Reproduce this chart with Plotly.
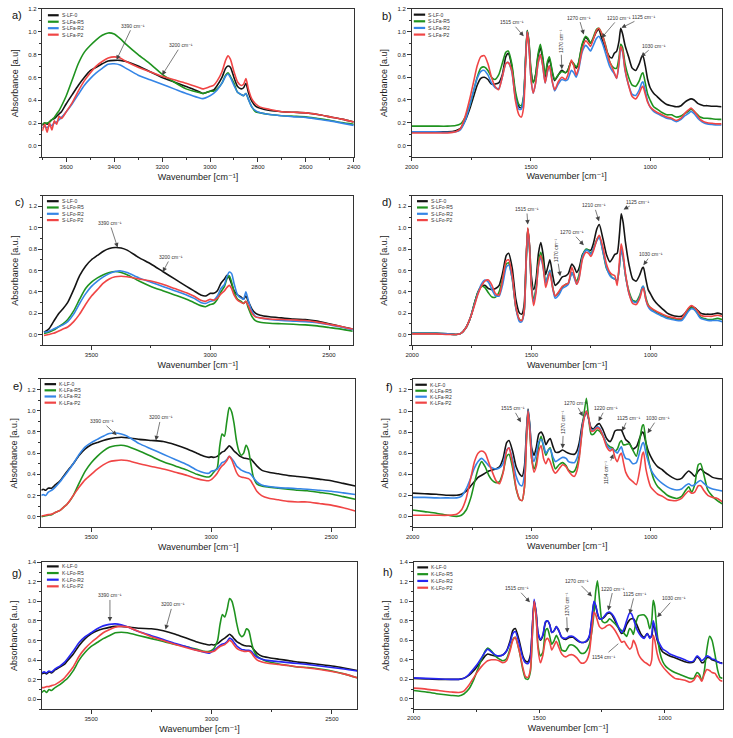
import plotly.graph_objects as go

W, H = 733, 738

# ---------------- DATA ----------------
# Panel a) 3700-2400 cm-1, S-LF / S-LFa
A_WN = [3700, 3690, 3680, 3670, 3660, 3650, 3640, 3630, 3620, 3600,
        3575, 3550, 3525, 3500, 3475, 3450, 3425, 3400, 3375, 3350,
        3300, 3250, 3200, 3150, 3100, 3050, 3030, 3000, 2985, 2970,
        2950, 2935, 2925, 2915, 2900, 2885, 2870, 2860, 2850, 2840,
        2825, 2810, 2790, 2750, 2700, 2650, 2600, 2550, 2500, 2450,
        2400]
A_S_LF_0 = [0.18, 0.20, 0.19, 0.21, 0.23, 0.24, 0.26, 0.28, 0.30, 0.37,
            0.45, 0.53, 0.60, 0.66, 0.69, 0.72, 0.745, 0.75, 0.75, 0.74,
            0.70, 0.65, 0.60, 0.56, 0.52, 0.48, 0.46, 0.48, 0.49, 0.53,
            0.60, 0.68, 0.70, 0.69, 0.60, 0.52, 0.50, 0.51, 0.55, 0.47,
            0.39, 0.35, 0.33, 0.31, 0.30, 0.295, 0.29, 0.275, 0.255, 0.235,
            0.21]
A_S_LFA_R5 = [0.19, 0.20, 0.20, 0.21, 0.23, 0.25, 0.28, 0.31, 0.35, 0.44,
              0.58, 0.72, 0.82, 0.88, 0.93, 0.97, 0.99, 0.98, 0.94, 0.89,
              0.80, 0.72, 0.63, 0.56, 0.50, 0.47, 0.46, 0.48, 0.48, 0.50,
              0.55, 0.62, 0.64, 0.61, 0.55, 0.47, 0.45, 0.44, 0.46, 0.41,
              0.34, 0.30, 0.29, 0.275, 0.265, 0.26, 0.255, 0.24, 0.225, 0.205,
              0.19]
A_S_LFA_R2 = [0.16, 0.17, 0.16, 0.18, 0.18, 0.20, 0.21, 0.23, 0.25, 0.30,
              0.37, 0.45, 0.53, 0.59, 0.64, 0.68, 0.715, 0.72, 0.71, 0.68,
              0.62, 0.58, 0.54, 0.50, 0.46, 0.425, 0.415, 0.44, 0.46, 0.49,
              0.55, 0.61, 0.63, 0.60, 0.53, 0.47, 0.45, 0.44, 0.46, 0.41,
              0.34, 0.31, 0.29, 0.275, 0.265, 0.255, 0.25, 0.235, 0.22, 0.20,
              0.18]
A_S_LFA_P2 = [0.13, 0.19, 0.12, 0.20, 0.14, 0.22, 0.19, 0.26, 0.24, 0.30,
              0.38, 0.48, 0.57, 0.64, 0.70, 0.74, 0.77, 0.78, 0.77, 0.74,
              0.69, 0.65, 0.61, 0.58, 0.55, 0.515, 0.50, 0.52, 0.53, 0.57,
              0.65, 0.75, 0.79, 0.76, 0.65, 0.56, 0.53, 0.54, 0.59, 0.50,
              0.41, 0.37, 0.34, 0.32, 0.30, 0.295, 0.29, 0.275, 0.255, 0.235,
              0.21]

# Fingerprint region 2000-700 cm-1 (panels b, d, f)
FP_WN = [2000, 1950, 1900, 1850, 1815, 1795, 1775, 1755, 1740, 1725,
         1710, 1695, 1680, 1665, 1650, 1635, 1620, 1605, 1595, 1580,
         1565, 1550, 1540, 1530, 1522, 1515, 1508, 1500, 1490, 1480,
         1470, 1460, 1450, 1440, 1430, 1422, 1410, 1400, 1385, 1370,
         1355, 1345, 1330, 1320, 1310, 1300, 1285, 1270, 1260, 1250,
         1240, 1225, 1215, 1200, 1185, 1170, 1160, 1150, 1140, 1130,
         1123, 1115, 1105, 1090, 1075, 1060, 1045, 1035, 1030, 1020,
         1010, 1000, 985, 970, 950, 930, 910, 890, 870, 855,
         840, 828, 815, 800, 790, 775, 760, 740, 720, 700]

B_S_LF_0 = [0.12, 0.12, 0.12, 0.12, 0.13, 0.15, 0.22, 0.33, 0.43, 0.53,
            0.59, 0.60, 0.58, 0.54, 0.54, 0.55, 0.62, 0.78, 0.81, 0.70,
            0.45, 0.34, 0.33, 0.42, 0.75, 1.01, 0.90, 0.66, 0.56, 0.62,
            0.78, 0.86, 0.76, 0.60, 0.72, 0.76, 0.64, 0.57, 0.62, 0.66,
            0.64, 0.66, 0.74, 0.71, 0.68, 0.72, 0.88, 0.95, 0.93, 0.90,
            0.93, 1.00, 1.02, 0.92, 0.84, 0.78, 0.77, 0.81, 0.83, 0.92,
            1.03, 0.98, 0.88, 0.78, 0.68, 0.66, 0.72, 0.78, 0.79, 0.70,
            0.58, 0.51, 0.46, 0.43, 0.39, 0.36, 0.35, 0.34, 0.35, 0.38,
            0.40, 0.41, 0.40, 0.37, 0.36, 0.35, 0.35, 0.345, 0.345, 0.34]
B_S_LFA_R5 = [0.17, 0.17, 0.17, 0.17, 0.175, 0.19, 0.25, 0.36, 0.48, 0.60,
              0.68, 0.69, 0.66, 0.60, 0.58, 0.62, 0.72, 0.82, 0.83, 0.72,
              0.48, 0.36, 0.35, 0.44, 0.78, 1.01, 0.92, 0.68, 0.55, 0.62,
              0.80, 0.89, 0.78, 0.62, 0.74, 0.78, 0.65, 0.58, 0.62, 0.65,
              0.64, 0.66, 0.74, 0.72, 0.69, 0.73, 0.89, 0.96, 0.94, 0.90,
              0.94, 1.02, 1.03, 0.97, 0.87, 0.74, 0.70, 0.68, 0.68, 0.78,
              0.89, 0.86, 0.72, 0.60, 0.53, 0.52, 0.57, 0.63, 0.64, 0.55,
              0.45, 0.40, 0.34, 0.32, 0.29, 0.27, 0.27, 0.25, 0.26, 0.28,
              0.30, 0.32, 0.30, 0.27, 0.25, 0.24, 0.24, 0.235, 0.23, 0.23]
B_S_LFA_R2 = [0.12, 0.12, 0.12, 0.115, 0.12, 0.14, 0.22, 0.36, 0.48, 0.59,
              0.65, 0.66, 0.62, 0.55, 0.51, 0.50, 0.60, 0.72, 0.73, 0.65,
              0.42, 0.32, 0.32, 0.42, 0.75, 1.00, 0.88, 0.60, 0.46, 0.55,
              0.72, 0.80, 0.70, 0.55, 0.65, 0.70, 0.56, 0.48, 0.54, 0.58,
              0.57, 0.58, 0.66, 0.64, 0.60, 0.66, 0.82, 0.88, 0.86, 0.83,
              0.87, 0.94, 0.96, 0.90, 0.80, 0.70, 0.66, 0.63, 0.59, 0.72,
              0.86, 0.82, 0.66, 0.53, 0.45, 0.44, 0.49, 0.55, 0.56, 0.48,
              0.39, 0.34, 0.30, 0.28, 0.26, 0.24, 0.23, 0.21, 0.23, 0.26,
              0.28, 0.30, 0.28, 0.24, 0.22, 0.20, 0.19, 0.185, 0.18, 0.18]
B_S_LFA_P2 = [0.11, 0.11, 0.11, 0.11, 0.12, 0.15, 0.26, 0.42, 0.56, 0.70,
              0.78, 0.79, 0.72, 0.60, 0.52, 0.49, 0.60, 0.72, 0.73, 0.66,
              0.40, 0.27, 0.25, 0.34, 0.72, 1.00, 0.88, 0.60, 0.46, 0.55,
              0.72, 0.80, 0.70, 0.55, 0.66, 0.70, 0.56, 0.49, 0.56, 0.60,
              0.58, 0.62, 0.75, 0.70, 0.62, 0.68, 0.84, 0.92, 0.90, 0.87,
              0.92, 1.01, 1.03, 0.97, 0.86, 0.74, 0.69, 0.64, 0.59, 0.74,
              0.87, 0.83, 0.67, 0.53, 0.43, 0.41, 0.46, 0.51, 0.52, 0.45,
              0.38, 0.34, 0.31, 0.29, 0.27, 0.25, 0.24, 0.22, 0.24, 0.28,
              0.31, 0.33, 0.30, 0.26, 0.23, 0.21, 0.20, 0.195, 0.19, 0.19]

# Panel c) 3700-2400, S-LF / S-LFo
C_WN = [3700, 3680, 3660, 3640, 3620, 3600, 3575, 3550, 3525, 3500,
        3475, 3450, 3425, 3400, 3375, 3350, 3300, 3250, 3200, 3150,
        3100, 3070, 3040, 3020, 3000, 2985, 2970, 2955, 2940, 2930,
        2920, 2910, 2900, 2885, 2870, 2860, 2850, 2840, 2825, 2810,
        2790, 2750, 2700, 2650, 2600, 2550, 2500, 2450, 2400]
C_S_LF_0 = [0.02, 0.05, 0.12, 0.19, 0.24, 0.30, 0.42, 0.55, 0.64, 0.70,
            0.74, 0.78, 0.805, 0.815, 0.81, 0.79, 0.72, 0.66, 0.59, 0.52,
            0.45, 0.41, 0.37, 0.36, 0.385, 0.385, 0.41, 0.48, 0.52, 0.555,
            0.53, 0.47, 0.41, 0.37, 0.35, 0.33, 0.36, 0.31, 0.24, 0.20,
            0.18, 0.165, 0.155, 0.145, 0.14, 0.125, 0.10, 0.075, 0.05]
C_S_LFO_R5 = [0.01, 0.02, 0.04, 0.07, 0.10, 0.14, 0.22, 0.33, 0.43, 0.49,
              0.53, 0.56, 0.58, 0.59, 0.58, 0.56, 0.50, 0.45, 0.41, 0.37,
              0.33, 0.30, 0.27, 0.26, 0.28, 0.29, 0.33, 0.40, 0.45, 0.52,
              0.55, 0.49, 0.40, 0.33, 0.31, 0.29, 0.31, 0.25, 0.17, 0.13,
              0.115, 0.105, 0.10, 0.095, 0.09, 0.08, 0.065, 0.05, 0.03]
C_S_LFO_R2 = [0.02, 0.03, 0.05, 0.07, 0.09, 0.12, 0.19, 0.29, 0.38, 0.45,
              0.50, 0.54, 0.57, 0.59, 0.595, 0.58, 0.53, 0.49, 0.45, 0.41,
              0.37, 0.34, 0.30, 0.29, 0.31, 0.32, 0.36, 0.43, 0.47, 0.54,
              0.585, 0.57, 0.48, 0.37, 0.34, 0.33, 0.40, 0.32, 0.22, 0.17,
              0.155, 0.14, 0.13, 0.125, 0.12, 0.11, 0.09, 0.07, 0.045]
C_S_LFO_P2 = [-0.01, 0.0, 0.01, 0.03, 0.05, 0.07, 0.12, 0.19, 0.28, 0.36,
              0.42, 0.48, 0.52, 0.54, 0.545, 0.54, 0.52, 0.50, 0.47, 0.43,
              0.39, 0.36, 0.32, 0.31, 0.33, 0.32, 0.34, 0.38, 0.41, 0.44,
              0.46, 0.43, 0.37, 0.32, 0.30, 0.29, 0.31, 0.27, 0.20, 0.165,
              0.155, 0.145, 0.14, 0.135, 0.13, 0.115, 0.095, 0.075, 0.05]

D_S_LF_0 = [0.01, 0.01, 0.01, 0.005, 0.0, 0.01, 0.06, 0.16, 0.28, 0.39,
            0.45, 0.46, 0.43, 0.42, 0.43, 0.46, 0.58, 0.74, 0.76, 0.62,
            0.33, 0.20, 0.19, 0.28, 0.70, 0.99, 0.85, 0.55, 0.42, 0.52,
            0.76, 0.86, 0.74, 0.56, 0.64, 0.70, 0.55, 0.46, 0.49, 0.54,
            0.55, 0.57, 0.66, 0.63, 0.58, 0.62, 0.75, 0.79, 0.79, 0.79,
            0.85, 0.99, 1.03, 0.90, 0.75, 0.68, 0.71, 0.75, 0.76, 0.95,
            1.13, 1.05, 0.86, 0.65, 0.52, 0.50, 0.56, 0.62, 0.63, 0.52,
            0.42, 0.38, 0.32, 0.28, 0.24, 0.20, 0.18, 0.17, 0.17, 0.20,
            0.24, 0.26, 0.25, 0.22, 0.20, 0.19, 0.19, 0.19, 0.20, 0.19]
D_S_LFO_R5 = [0.01, 0.01, 0.01, 0.005, 0.0, 0.01, 0.06, 0.16, 0.28, 0.39,
              0.45, 0.44, 0.39, 0.35, 0.35, 0.40, 0.53, 0.66, 0.67, 0.52,
              0.25, 0.14, 0.13, 0.22, 0.65, 0.99, 0.82, 0.48, 0.33, 0.44,
              0.68, 0.77, 0.66, 0.49, 0.55, 0.60, 0.44, 0.36, 0.39, 0.44,
              0.47, 0.48, 0.58, 0.54, 0.50, 0.56, 0.74, 0.80, 0.79, 0.76,
              0.80, 0.89, 0.92, 0.78, 0.62, 0.56, 0.53, 0.52, 0.50, 0.65,
              0.80, 0.72, 0.55, 0.40, 0.32, 0.31, 0.37, 0.44, 0.45, 0.35,
              0.28, 0.25, 0.22, 0.20, 0.18, 0.16, 0.15, 0.14, 0.14, 0.18,
              0.23, 0.25, 0.23, 0.19, 0.16, 0.15, 0.14, 0.14, 0.15, 0.14]
D_S_LFO_R2 = [0.01, 0.01, 0.01, 0.005, 0.0, 0.01, 0.06, 0.16, 0.27, 0.38,
              0.47, 0.51, 0.49, 0.42, 0.36, 0.36, 0.47, 0.63, 0.65, 0.52,
              0.25, 0.12, 0.12, 0.21, 0.65, 0.98, 0.82, 0.46, 0.30, 0.42,
              0.64, 0.72, 0.62, 0.48, 0.55, 0.60, 0.43, 0.34, 0.37, 0.43,
              0.45, 0.47, 0.58, 0.53, 0.47, 0.53, 0.73, 0.79, 0.78, 0.75,
              0.80, 0.88, 0.91, 0.78, 0.63, 0.55, 0.53, 0.52, 0.50, 0.65,
              0.80, 0.72, 0.55, 0.38, 0.31, 0.30, 0.35, 0.44, 0.45, 0.33,
              0.26, 0.23, 0.21, 0.19, 0.17, 0.15, 0.14, 0.13, 0.13, 0.17,
              0.22, 0.24, 0.23, 0.18, 0.15, 0.14, 0.13, 0.13, 0.13, 0.12]
D_S_LFO_P2 = [0.005, 0.005, 0.005, 0.0, 0.0, 0.01, 0.06, 0.16, 0.26, 0.37,
              0.45, 0.50, 0.51, 0.46, 0.38, 0.37, 0.52, 0.69, 0.70, 0.55,
              0.26, 0.14, 0.13, 0.22, 0.68, 1.00, 0.84, 0.45, 0.27, 0.40,
              0.65, 0.74, 0.63, 0.44, 0.52, 0.58, 0.43, 0.36, 0.40, 0.45,
              0.47, 0.48, 0.63, 0.56, 0.47, 0.52, 0.71, 0.77, 0.76, 0.73,
              0.78, 0.89, 0.93, 0.82, 0.66, 0.58, 0.56, 0.55, 0.46, 0.70,
              0.85, 0.76, 0.57, 0.38, 0.29, 0.28, 0.34, 0.42, 0.43, 0.33,
              0.27, 0.25, 0.23, 0.21, 0.19, 0.17, 0.16, 0.15, 0.15, 0.20,
              0.25, 0.27, 0.25, 0.21, 0.18, 0.17, 0.17, 0.17, 0.18, 0.17]

# Panel e) K-LF / K-LFa, 3708-2400
E_WN = [3708, 3700, 3690, 3680, 3665, 3650, 3630, 3610, 3600, 3575,
        3550, 3525, 3500, 3475, 3450, 3425, 3400, 3375, 3350, 3300,
        3250, 3200, 3150, 3100, 3060, 3030, 3010, 3000, 2990, 2975,
        2965, 2955, 2945, 2935, 2925, 2915, 2905, 2895, 2885, 2875,
        2865, 2855, 2845, 2835, 2825, 2810, 2790, 2760, 2720, 2680,
        2640, 2600, 2550, 2500, 2450, 2400]
E_K_LF_0 = [0.25, 0.26, 0.25, 0.27, 0.27, 0.30, 0.34, 0.40, 0.43, 0.50,
            0.58, 0.64, 0.68, 0.70, 0.72, 0.735, 0.745, 0.75, 0.745, 0.73,
            0.72, 0.71, 0.68, 0.64, 0.60, 0.57, 0.56, 0.565, 0.56, 0.57,
            0.59, 0.61, 0.62, 0.645, 0.67, 0.65, 0.62, 0.60, 0.58, 0.565,
            0.555, 0.55, 0.545, 0.545, 0.52, 0.48, 0.44, 0.42, 0.405, 0.39,
            0.38, 0.37, 0.355, 0.34, 0.315, 0.29]
E_K_LFA_R5 = [0.0, 0.005, 0.01, 0.015, 0.02, 0.04, 0.06, 0.10, 0.12, 0.20,
              0.32, 0.43, 0.51, 0.57, 0.62, 0.655, 0.67, 0.675, 0.665, 0.62,
              0.57, 0.52, 0.48, 0.44, 0.40, 0.38, 0.375, 0.39, 0.42, 0.46,
              0.66, 0.78, 0.76, 0.90, 1.03, 0.99, 0.88, 0.72, 0.62, 0.58,
              0.60, 0.675, 0.63, 0.50, 0.38, 0.31, 0.29, 0.28, 0.27, 0.26,
              0.25, 0.245, 0.23, 0.215, 0.19, 0.165]
E_K_LFA_R2 = [0.20, 0.21, 0.20, 0.23, 0.25, 0.28, 0.33, 0.39, 0.42, 0.50,
              0.59, 0.66, 0.70, 0.73, 0.76, 0.785, 0.79, 0.78, 0.76, 0.69,
              0.64, 0.59, 0.54, 0.49, 0.44, 0.415, 0.41, 0.43, 0.435, 0.45,
              0.48, 0.51, 0.52, 0.54, 0.57, 0.55, 0.52, 0.48, 0.46, 0.44,
              0.43, 0.42, 0.415, 0.40, 0.37, 0.33, 0.30, 0.285, 0.275, 0.27,
              0.265, 0.26, 0.25, 0.24, 0.225, 0.21]
E_K_LFA_P2 = [0.01, 0.01, 0.015, 0.02, 0.025, 0.04, 0.06, 0.10, 0.12, 0.20,
              0.28, 0.35, 0.40, 0.45, 0.49, 0.52, 0.53, 0.535, 0.53, 0.50,
              0.475, 0.45, 0.42, 0.39, 0.36, 0.345, 0.34, 0.35, 0.37, 0.41,
              0.45, 0.48, 0.50, 0.53, 0.57, 0.54, 0.48, 0.42, 0.385, 0.375,
              0.37, 0.365, 0.36, 0.34, 0.30, 0.24, 0.20, 0.175, 0.16, 0.145,
              0.14, 0.14, 0.125, 0.11, 0.085, 0.055]

F_K_LF_0 = [0.22, 0.215, 0.21, 0.20, 0.20, 0.21, 0.24, 0.29, 0.33, 0.37,
            0.39, 0.41, 0.43, 0.44, 0.45, 0.47, 0.55, 0.70, 0.72, 0.62,
            0.47, 0.40, 0.38, 0.48, 0.80, 1.02, 0.88, 0.65, 0.58, 0.66,
            0.78, 0.80, 0.76, 0.68, 0.72, 0.74, 0.66, 0.61, 0.61, 0.63,
            0.61, 0.60, 0.59, 0.59, 0.62, 0.70, 0.90, 0.99, 0.92, 0.84,
            0.83, 0.87, 0.88, 0.82, 0.74, 0.71, 0.75, 0.81, 0.82, 0.82,
            0.82, 0.78, 0.73, 0.70, 0.64, 0.66, 0.75, 0.80, 0.79, 0.70,
            0.62, 0.57, 0.51, 0.47, 0.44, 0.40, 0.37, 0.35, 0.36, 0.40,
            0.43, 0.41, 0.38, 0.43, 0.45, 0.42, 0.40, 0.37, 0.36, 0.355]
F_K_LFA_R5 = [0.06, 0.045, 0.03, 0.01, 0.0, 0.01, 0.06, 0.18, 0.32, 0.45,
              0.52, 0.47, 0.39, 0.34, 0.32, 0.33, 0.42, 0.57, 0.59, 0.46,
              0.26, 0.16, 0.15, 0.28, 0.72, 1.00, 0.82, 0.55, 0.45, 0.52,
              0.68, 0.76, 0.66, 0.58, 0.63, 0.65, 0.52, 0.45, 0.49, 0.51,
              0.48, 0.44, 0.42, 0.43, 0.48, 0.58, 0.88, 1.12, 0.92, 0.78,
              0.78, 0.82, 0.81, 0.76, 0.69, 0.66, 0.65, 0.62, 0.64, 0.70,
              0.72, 0.68, 0.68, 0.69, 0.63, 0.57, 0.74, 0.86, 0.87, 0.70,
              0.55, 0.45, 0.34, 0.28, 0.24, 0.20, 0.18, 0.17, 0.19, 0.24,
              0.28, 0.23, 0.30, 0.49, 0.50, 0.38, 0.25, 0.19, 0.15, 0.12]
F_K_LFA_R2 = [0.18, 0.18, 0.175, 0.175, 0.175, 0.19, 0.26, 0.37, 0.46, 0.52,
              0.55, 0.52, 0.48, 0.46, 0.45, 0.46, 0.50, 0.63, 0.65, 0.54,
              0.38, 0.30, 0.29, 0.40, 0.75, 1.01, 0.86, 0.62, 0.52, 0.60,
              0.71, 0.73, 0.68, 0.60, 0.63, 0.64, 0.56, 0.52, 0.54, 0.56,
              0.55, 0.52, 0.51, 0.51, 0.55, 0.64, 0.88, 1.00, 0.92, 0.82,
              0.82, 0.85, 0.84, 0.77, 0.68, 0.64, 0.64, 0.62, 0.60, 0.64,
              0.66, 0.60, 0.55, 0.54, 0.50, 0.51, 0.62, 0.69, 0.70, 0.60,
              0.52, 0.45, 0.39, 0.35, 0.31, 0.28, 0.26, 0.25, 0.26, 0.29,
              0.31, 0.29, 0.30, 0.33, 0.34, 0.31, 0.28, 0.26, 0.25, 0.24]
F_K_LFA_P2 = [0.01, 0.01, 0.01, 0.01, 0.02, 0.06, 0.17, 0.37, 0.52, 0.60,
              0.62, 0.60, 0.51, 0.42, 0.34, 0.31, 0.41, 0.62, 0.65, 0.50,
              0.27, 0.16, 0.15, 0.28, 0.70, 1.00, 0.82, 0.55, 0.42, 0.48,
              0.62, 0.67, 0.55, 0.50, 0.55, 0.52, 0.44, 0.41, 0.45, 0.49,
              0.47, 0.43, 0.39, 0.38, 0.43, 0.55, 0.86, 1.00, 0.93, 0.81,
              0.81, 0.84, 0.83, 0.76, 0.66, 0.62, 0.64, 0.56, 0.52, 0.58,
              0.60, 0.52, 0.42, 0.36, 0.33, 0.30, 0.45, 0.59, 0.61, 0.45,
              0.35, 0.28, 0.24, 0.21, 0.19, 0.16, 0.15, 0.15, 0.17, 0.21,
              0.24, 0.22, 0.23, 0.29, 0.29, 0.24, 0.20, 0.18, 0.17, 0.14]

# Panel g) K-LF / K-LFo, 3705-2395
G_WN = [3705, 3695, 3685, 3675, 3665, 3650, 3630, 3610, 3600, 3575,
        3550, 3525, 3500, 3475, 3450, 3425, 3400, 3375, 3350, 3300,
        3250, 3200, 3150, 3100, 3060, 3030, 3010, 3000, 2990, 2975,
        2965, 2955, 2945, 2935, 2925, 2915, 2905, 2895, 2885, 2875,
        2865, 2855, 2845, 2835, 2825, 2810, 2790, 2760, 2720, 2680,
        2640, 2600, 2550, 2500, 2450, 2395]
G_K_LF_0 = [0.26, 0.27, 0.26, 0.28, 0.27, 0.30, 0.33, 0.36, 0.39, 0.46,
            0.55, 0.62, 0.67, 0.70, 0.72, 0.735, 0.745, 0.745, 0.74, 0.725,
            0.72, 0.70, 0.665, 0.62, 0.585, 0.565, 0.555, 0.56, 0.555, 0.57,
            0.59, 0.61, 0.625, 0.645, 0.665, 0.645, 0.615, 0.59, 0.575, 0.56,
            0.55, 0.545, 0.545, 0.54, 0.51, 0.47, 0.44, 0.425, 0.41, 0.395,
            0.38, 0.37, 0.355, 0.34, 0.32, 0.295]
G_K_LFO_R5 = [0.07, 0.09, 0.07, 0.10, 0.09, 0.12, 0.15, 0.19, 0.21, 0.29,
              0.40, 0.48, 0.54, 0.58, 0.62, 0.65, 0.68, 0.685, 0.68, 0.65,
              0.62, 0.59, 0.56, 0.535, 0.51, 0.49, 0.49, 0.50, 0.52, 0.60,
              0.76, 0.865, 0.84, 0.92, 1.03, 1.00, 0.90, 0.77, 0.67, 0.64,
              0.66, 0.72, 0.70, 0.59, 0.50, 0.44, 0.41, 0.38, 0.36, 0.345,
              0.33, 0.325, 0.31, 0.29, 0.26, 0.22]
G_K_LFO_R2 = [0.27, 0.28, 0.27, 0.29, 0.28, 0.31, 0.34, 0.38, 0.41, 0.49,
              0.58, 0.64, 0.68, 0.72, 0.75, 0.765, 0.77, 0.76, 0.74, 0.69,
              0.65, 0.61, 0.57, 0.535, 0.50, 0.48, 0.47, 0.485, 0.50, 0.53,
              0.55, 0.565, 0.57, 0.59, 0.625, 0.61, 0.575, 0.545, 0.525, 0.51,
              0.505, 0.50, 0.50, 0.49, 0.46, 0.43, 0.41, 0.395, 0.385, 0.375,
              0.365, 0.355, 0.34, 0.325, 0.31, 0.29]
G_K_LFO_P2 = [0.12, 0.12, 0.13, 0.13, 0.14, 0.15, 0.18, 0.22, 0.25, 0.33,
              0.44, 0.52, 0.58, 0.63, 0.68, 0.71, 0.735, 0.745, 0.74, 0.69,
              0.64, 0.60, 0.56, 0.525, 0.50, 0.485, 0.48, 0.485, 0.49, 0.52,
              0.54, 0.55, 0.56, 0.58, 0.605, 0.585, 0.55, 0.52, 0.505, 0.495,
              0.49, 0.49, 0.49, 0.475, 0.44, 0.40, 0.38, 0.365, 0.355, 0.345,
              0.33, 0.32, 0.305, 0.285, 0.26, 0.22]

# Panel h) K-LF / K-LFo, 2000-770
H_WN = [2000, 1950, 1900, 1850, 1820, 1800, 1780, 1760, 1745, 1730,
        1715, 1705, 1690, 1675, 1660, 1645, 1630, 1615, 1605, 1595,
        1580, 1565, 1555, 1545, 1535, 1528, 1520, 1512, 1505, 1495,
        1485, 1475, 1467, 1458, 1450, 1440, 1432, 1422, 1410, 1395,
        1380, 1365, 1350, 1335, 1320, 1310, 1300, 1290, 1282, 1275,
        1268, 1260, 1250, 1240, 1230, 1220, 1210, 1198, 1185, 1172,
        1162, 1152, 1140, 1132, 1125, 1115, 1105, 1094, 1082, 1070,
        1060, 1052, 1046, 1040, 1030, 1020, 1008, 995, 980, 960,
        940, 920, 900, 885, 872, 862, 853, 843, 833, 822,
        812, 800, 790, 780, 770]
H_K_LF_0 = [0.21, 0.205, 0.20, 0.20, 0.20, 0.21, 0.24, 0.29, 0.34, 0.39,
            0.44, 0.46, 0.45, 0.44, 0.44, 0.45, 0.49, 0.60, 0.70, 0.72,
            0.60, 0.44, 0.39, 0.38, 0.45, 0.70, 1.00, 0.88, 0.68, 0.60,
            0.65, 0.78, 0.80, 0.76, 0.68, 0.70, 0.74, 0.70, 0.63, 0.61,
            0.63, 0.63, 0.60, 0.58, 0.58, 0.59, 0.64, 0.82, 0.99, 0.95,
            0.87, 0.82, 0.82, 0.84, 0.87, 0.88, 0.86, 0.80, 0.73, 0.67,
            0.69, 0.76, 0.81, 0.82, 0.82, 0.78, 0.72, 0.66, 0.63, 0.67,
            0.63, 0.64, 0.78, 0.72, 0.60, 0.53, 0.48, 0.46, 0.44, 0.42,
            0.40, 0.38, 0.37, 0.38, 0.43, 0.41, 0.37, 0.38, 0.42, 0.42,
            0.40, 0.39, 0.38, 0.37, 0.37]
H_K_LFO_R5 = [0.085, 0.07, 0.05, 0.035, 0.03, 0.05, 0.10, 0.20, 0.30, 0.40,
              0.49, 0.52, 0.49, 0.44, 0.41, 0.39, 0.41, 0.52, 0.61, 0.63,
              0.50, 0.30, 0.21, 0.20, 0.28, 0.60, 1.00, 0.85, 0.55, 0.44,
              0.48, 0.70, 0.72, 0.64, 0.56, 0.60, 0.65, 0.60, 0.50, 0.49,
              0.55, 0.55, 0.52, 0.47, 0.47, 0.50, 0.56, 0.70, 0.88, 1.10,
              1.21, 1.02, 0.80, 0.78, 0.79, 0.82, 0.80, 0.77, 0.73, 0.70,
              0.67, 0.64, 0.72, 0.70, 0.66, 0.78, 0.85, 0.86, 0.86, 0.82,
              0.72, 0.80, 1.01, 0.95, 0.66, 0.48, 0.38, 0.33, 0.30, 0.27,
              0.25, 0.23, 0.21, 0.21, 0.27, 0.25, 0.19, 0.28, 0.50, 0.64,
              0.60, 0.45, 0.30, 0.22, 0.21]
H_K_LFO_R2 = [0.215, 0.21, 0.205, 0.20, 0.20, 0.21, 0.25, 0.31, 0.36, 0.42,
              0.48, 0.51, 0.48, 0.45, 0.44, 0.45, 0.49, 0.58, 0.67, 0.69,
              0.57, 0.42, 0.37, 0.36, 0.42, 0.70, 1.02, 0.88, 0.68, 0.61,
              0.66, 0.79, 0.80, 0.76, 0.68, 0.70, 0.74, 0.70, 0.63, 0.62,
              0.64, 0.64, 0.61, 0.58, 0.58, 0.60, 0.65, 0.84, 1.00, 0.96,
              0.88, 0.82, 0.82, 0.85, 0.88, 0.89, 0.87, 0.82, 0.74, 0.68,
              0.72, 0.80, 0.88, 0.87, 0.82, 0.74, 0.68, 0.64, 0.62, 0.67,
              0.62, 0.66, 0.80, 0.74, 0.62, 0.56, 0.51, 0.49, 0.46, 0.44,
              0.42, 0.40, 0.38, 0.39, 0.44, 0.42, 0.39, 0.41, 0.44, 0.43,
              0.41, 0.40, 0.38, 0.37, 0.36]
H_K_LFO_P2 = [0.11, 0.10, 0.085, 0.07, 0.065, 0.08, 0.14, 0.22, 0.28, 0.33,
              0.37, 0.39, 0.40, 0.40, 0.39, 0.37, 0.39, 0.50, 0.60, 0.63,
              0.50, 0.32, 0.23, 0.22, 0.30, 0.62, 1.00, 0.84, 0.52, 0.37,
              0.45, 0.60, 0.62, 0.58, 0.50, 0.55, 0.59, 0.53, 0.46, 0.43,
              0.45, 0.45, 0.42, 0.37, 0.37, 0.40, 0.48, 0.72, 0.89, 0.86,
              0.80, 0.74, 0.72, 0.73, 0.75, 0.76, 0.74, 0.70, 0.64, 0.58,
              0.59, 0.55, 0.51, 0.53, 0.60, 0.55, 0.46, 0.41, 0.38, 0.36,
              0.34, 0.40, 0.65, 0.60, 0.46, 0.38, 0.33, 0.29, 0.25, 0.21,
              0.20, 0.19, 0.17, 0.19, 0.24, 0.22, 0.18, 0.25, 0.30, 0.29,
              0.27, 0.26, 0.22, 0.19, 0.18]

NAMES_SA = ["S-LF-0", "S-LFa-R5", "S-LFa-R2", "S-LFa-P2"]
NAMES_SO = ["S-LF-0", "S-LFo-R5", "S-LFo-R2", "S-LFo-P2"]
NAMES_KA = ["K-LF-0", "K-LFa-R5", "K-LFa-R2", "K-LFa-P2"]
NAMES_KO = ["K-LF-0", "K-LFo-R5", "K-LFo-R2", "K-LFo-P2"]

CM = "cm\u207b\u00b9"   # cm⁻¹

# ---------------- STYLE ----------------
FONT = "Liberation Sans, Arial, DejaVu Sans, sans-serif"
BLACK, GREEN, RED = "#141414", "#1f931f", "#f04545"
BLUE, BLUE2 = "#3585e6", "#2626f2"
COLORS1 = [BLACK, GREEN, BLUE, RED]
COLORS2 = [BLACK, GREEN, BLUE2, RED]

def X(px):
    return px / W

def Y(py):
    return 1 - py / H

PANELS = [
    dict(lab="a)", wn=A_WN, ser=[A_S_LF_0, A_S_LFA_R5, A_S_LFA_R2, A_S_LFA_P2], names=NAMES_SA, colors=COLORS1,
         xd=(36, 353.5), yd=(6, 155), xr=(3700, 2400), yr=(-0.1, 1.2), dt=200, mdt=100,
         yt="Absorbance [a.u]", leg=(41.7, 52.7, 12.3, 6.5), labpos=(3, 12),
         ann=[("3390", 3390, 0.755, 16, -34, 0, 2), ("3200", 3200, 0.62, 19, -30, 0, 2)]),
    dict(lab="b)", wn=FP_WN, ser=[B_S_LF_0, B_S_LFA_R5, B_S_LFA_R2, B_S_LFA_P2], names=NAMES_SA, colors=COLORS1,
         xd=(412.5, 728.5), yd=(6, 154.5), xr=(2000, 700), yr=(-0.1, 1.2), dt=500, mdt=250,
         yt="Absorbance [a.u]", leg=(414.7, 426.3, 11.7, 6.67), labpos=(380, 13),
         ann=[("1515", 1530, 0.96, -12, -14, 0, 2), ("1370", 1370, 0.67, -1, -28, -90, 2),
              ("1270", 1278, 0.975, -5, -17, 0, 2), ("1210", 1203, 0.946, 17, -20, 0, 2),
              ("1125", 1120, 1.034, 22, -11, 0, 2), ("1030", 1038, 0.78, 13, -11, 0, 2)]),
    dict(lab="c)", wn=C_WN, ser=[C_S_LF_0, C_S_LFO_R5, C_S_LFO_R2, C_S_LFO_P2], names=NAMES_SO, colors=COLORS1,
         xd=(36.5, 352.5), yd=(193.5, 343.5), xr=(3705, 2400), yr=(-0.1, 1.3), dt=500, mdt=250,
         yt="Absorbance [a.u.]", leg=(40.7, 52.7, 199, 6.33), labpos=(6, 199.5),
         ann=[("3390", 3390, 0.815, -8, -24.5, 0, 2), ("3200", 3200, 0.585, 8, -15, 0, 2)]),
    dict(lab="d)", wn=FP_WN, ser=[D_S_LF_0, D_S_LFO_R5, D_S_LFO_R2, D_S_LFO_P2], names=NAMES_SO, colors=COLORS1,
         xd=(413, 729), yd=(193.5, 343.5), xr=(2000, 700), yr=(-0.1, 1.3), dt=500, mdt=250,
         yt="Absorbance [a.u.]", leg=(418, 429, 199, 6.33), labpos=(380, 199.5),
         ann=[("1515", 1515, 1.03, -1, -15.5, 0, 2), ("1370", 1379, 0.546, -4, -26, -90, 2),
              ("1270", 1280, 0.836, -12, -13, 0, 2), ("1210", 1216, 1.06, -5, -16, 0, 2),
              ("1125", 1113, 1.17, 14, -8, 0, 2), ("1030", 1030, 0.649, 8, -11, 0, 2)]),
    dict(lab="e)", wn=E_WN, ser=[E_K_LF_0, E_K_LFA_R5, E_K_LFA_R2, E_K_LFA_P2], names=NAMES_KA, colors=COLORS1,
         xd=(35, 355), yd=(377.5, 526.5), xr=(3708, 2400), yr=(-0.1, 1.3), dt=500, mdt=250,
         yt="Absorbance [a.u.]", leg=(38.3, 50, 382.7, 6.2), labpos=(4, 385),
         ann=[("3390", 3394, 0.769, -15, -14, 0, 2), ("3200", 3231, 0.72, 5, -23, 0, 2)]),
    dict(lab="f)", wn=FP_WN, ser=[F_K_LF_0, F_K_LFA_R5, F_K_LFA_R2, F_K_LFA_P2], names=NAMES_KA, colors=COLORS1,
         xd=(413.5, 729), yd=(378, 526), xr=(2000, 700), yr=(-0.1, 1.3), dt=500, mdt=250,
         yt="Absorbance [a.u.]", leg=(416.3, 428, 383.3, 6.0), labpos=(384, 386),
         ann=[("1515", 1545, 0.893, -8, -14, 0, 2), ("1370", 1370, 0.645, 1, -26, -90, 2),
              ("1270", 1285, 0.95, -7, -13, 0, 2), ("1220", 1219, 0.903, 7, -13, 0, 2),
              ("1125", 1120, 0.808, 6, -13, 0, 2), ("1030", 1013, 0.79, 10, -15, 0, 2),
              ("1154", 1157, 0.593, -7, 19, -90, 2)]),
    dict(lab="g)", wn=G_WN, ser=[G_K_LF_0, G_K_LFO_R5, G_K_LFO_R2, G_K_LFO_P2], names=NAMES_KO, colors=COLORS2,
         xd=(35.5, 357), yd=(561.5, 709), xr=(3705, 2395), yr=(-0.1, 1.4), dt=500, mdt=250,
         yt="Absorbance [a.u.]", leg=(40.7, 52.7, 565.7, 6.67), labpos=(3, 572),
         ann=[("3390", 3422, 0.795, 0, -26, 0, 2), ("3200", 3191, 0.714, 7, -25, 0, 2)]),
    dict(lab="h)", wn=H_WN, ser=[H_K_LF_0, H_K_LFO_R5, H_K_LFO_R2, H_K_LFO_P2], names=NAMES_KO, colors=COLORS2,
         xd=(414.5, 729.5), yd=(561.5, 708.5), xr=(2000, 770), yr=(-0.1, 1.4), dt=500, mdt=250,
         yt="Absorbance [a.u.]", leg=(418.3, 429.3, 566.7, 6.8), labpos=(381, 571),
         ann=[("1515", 1537, 0.99, -13, -14, 0, 2), ("1370", 1388, 0.678, -1, -29, -90, 2),
              ("1270", 1290, 1.05, -15, -15, 0, 2), ("1220", 1225, 0.905, 5, -22, 0, 2),
              ("1125", 1140, 0.871, 5, -20, 0, 2), ("1030", 1030, 0.837, 17, -19, 0, 2),
              ("1154", 1185, 0.565, -15, 13, 0, 0)]),
]

for p in PANELS:
    for s in p["ser"]:
        if len(s) != len(p["wn"]):
            raise ValueError(f"length mismatch in panel {p['lab']}: {len(s)} vs {len(p['wn'])}")

fig = go.Figure()
layout = dict(width=W, height=H, margin=dict(l=0, r=0, t=0, b=0),
              paper_bgcolor="white", plot_bgcolor="white", showlegend=False,
              font=dict(family=FONT, color="#222", size=6))
annotations = []
shapes = []

for i, p in enumerate(PANELS, start=1):
    sfx = "" if i == 1 else str(i)
    xa, ya = "x" + sfx, "y" + sfx
    for name, vals, col in zip(p["names"], p["ser"], p["colors"]):
        fig.add_trace(go.Scatter(x=p["wn"], y=vals, mode="lines", name=name,
                                 line=dict(color=col, width=1.6, shape="spline", smoothing=0.6),
                                 xaxis=xa, yaxis=ya, showlegend=False, hoverinfo="x+y+name"))
    common = dict(showline=True, linecolor="#333", linewidth=1, mirror=True,
                  ticks="outside", ticklen=3.5, tickwidth=0.8, tickcolor="#333",
                  showgrid=False, zeroline=False, tickfont=dict(size=6, color="#222", family=FONT))
    layout["xaxis" + sfx] = dict(common, domain=[X(p["xd"][0]), X(p["xd"][1])], anchor=ya,
                                 range=list(p["xr"]), dtick=p["dt"], tick0=0,
                                 minor=dict(ticks="outside", ticklen=2, tickcolor="#333", dtick=p["mdt"], tick0=0),
                                 title=dict(text=f"Wavenumber [{CM}]", font=dict(size=9, color="#222", family=FONT), standoff=4))
    layout["yaxis" + sfx] = dict(common, domain=[Y(p["yd"][1]), Y(p["yd"][0])], anchor=xa,
                                 range=list(p["yr"]), dtick=0.2, tick0=0, tickformat=".1f",
                                 minor=dict(ticks="outside", ticklen=2, tickcolor="#333", dtick=0.1, tick0=0),
                                 title=dict(text=p["yt"], font=dict(size=9, color="#222", family=FONT), standoff=8))
    # panel label
    annotations.append(dict(text=p["lab"], x=X(p["labpos"][0]), y=Y(p["labpos"][1]), xref="paper", yref="paper",
                            xanchor="left", yanchor="middle", showarrow=False,
                            font=dict(size=11, color="#111", family=FONT)))
    # manual legend
    lx0, lx1, ly0, dy = p["leg"]
    for k, (name, col) in enumerate(zip(p["names"], p["colors"])):
        yy = ly0 + k * dy
        shapes.append(dict(type="line", xref="paper", yref="paper", x0=X(lx0), x1=X(lx1), y0=Y(yy), y1=Y(yy),
                           line=dict(color=col, width=2.2)))
        annotations.append(dict(text=name, x=X(lx1 + 1), y=Y(yy), xref="paper", yref="paper",
                                xanchor="left", yanchor="middle", showarrow=False,
                                font=dict(size=5, color="#333", family=FONT)))
    # band annotations
    for txt, wx, ay_, dx, dy_, ang, head in p["ann"]:
        annotations.append(dict(text=f"{txt} {CM}", x=wx, y=ay_, xref=xa, yref=ya,
                                ax=dx, ay=dy_, showarrow=True, arrowhead=head, arrowsize=1.3,
                                arrowwidth=0.7, arrowcolor="#444", textangle=ang,
                                font=dict(size=5, color="#333", family=FONT)))

layout["annotations"] = annotations
layout["shapes"] = shapes
fig.update_layout(**layout)

fig.write_html("out.html", config={"displayModeBar": False},
               post_script="document.body.style.margin='0';")
